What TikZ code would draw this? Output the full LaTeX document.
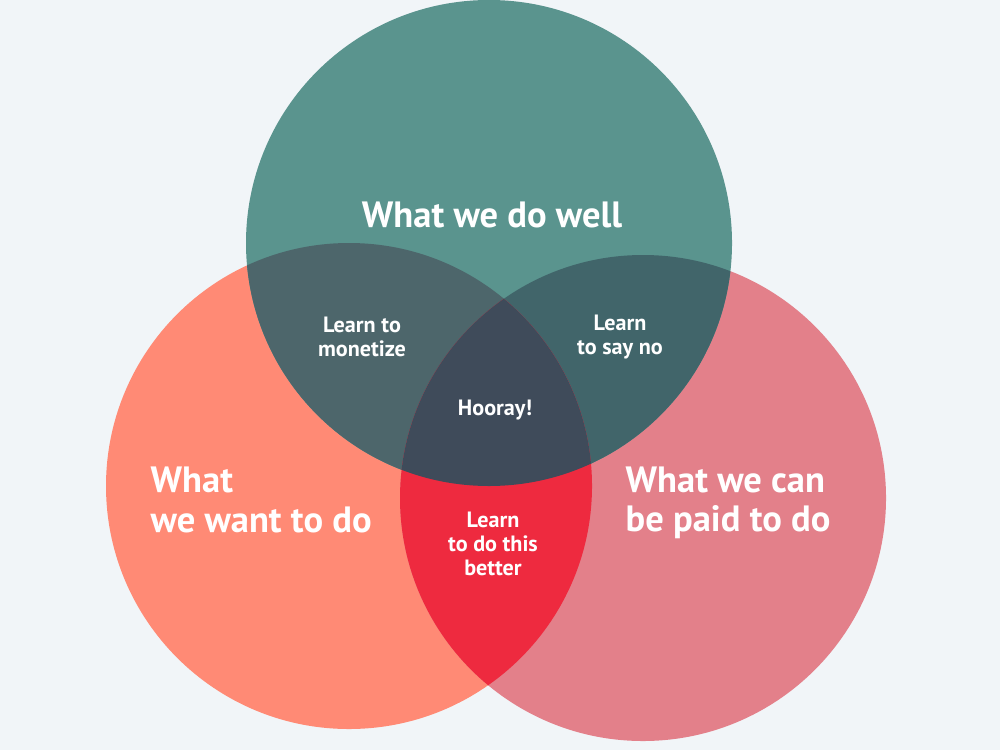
\documentclass[tikz,border=0pt]{standalone}
\usepackage{fontspec}
\setmainfont{PT Sans}
\usepackage{tikz}
\pgfdeclarelayer{circlelayer}
\pgfdeclarelayer{lenslayer}
\pgfsetlayers{circlelayer,lenslayer,main}
\definecolor{cback}{HTML}{F1F5F8}
\definecolor{cwell}{HTML}{5A948E}
\definecolor{cwant}{HTML}{FF8A75}
\definecolor{cpaid}{HTML}{E3808A}
\definecolor{cmonetize}{HTML}{4D666B}
\definecolor{csayno}{HTML}{41656A}
\definecolor{cbetter}{HTML}{EE2A3F}
\definecolor{chooray}{HTML}{3F4B5A}
\tikzstyle{set}=[circle,draw=none,minimum size=4.86cm,inner sep=0pt]
\tikzstyle{big}=[font=\bfseries\fontsize{10.4}{11.2}\selectfont,text=white,align=left,inner sep=0pt]
\tikzstyle{small}=[font=\bfseries\fontsize{6.3}{6.8}\selectfont,text=white,align=center,inner sep=0pt]

\begin{document}
\begin{tikzpicture}
	\begin{pgfonlayer}{circlelayer}
		\fill [cback] (0, 0) rectangle (10, 7.5);
		\node [style=set, fill=cwant] (L) at (3.49, 2.64) {};
		\node [style=set, fill=cpaid] (R) at (6.43, 2.52) {};
		\node [style=set, fill=cwell] (T) at (4.89, 5.07) {};
	\end{pgfonlayer}
	\begin{pgfonlayer}{lenslayer}
		% two-set overlaps
		\begin{scope}
			\clip (L.center) circle (2.43);
			\fill [cmonetize] (T.center) circle (2.43);
		\end{scope}
		\begin{scope}
			\clip (R.center) circle (2.43);
			\fill [csayno] (T.center) circle (2.43);
		\end{scope}
		\begin{scope}
			\clip (L.center) circle (2.43);
			\fill [cbetter] (R.center) circle (2.43);
		\end{scope}
		% all three
		\begin{scope}
			\clip (L.center) circle (2.43);
			\clip (R.center) circle (2.43);
			\fill [chooray] (T.center) circle (2.43);
		\end{scope}
	\end{pgfonlayer}
	\node [style=big] (well) at (4.92, 5.35) {What we do well};
	\node [style=big, anchor=west] (want) at (1.50, 2.50) {What\\we want to do};
	\node [style=big, anchor=west] (paid) at (6.25, 2.47) {What we can\\be paid to do};
	\node [style=small] (monetize) at (3.62, 4.13) {Learn to\\monetize};
	\node [style=small] (sayno) at (6.20, 4.13) {Learn\\to say no};
	\node [style=small] (hooray) at (4.95, 3.40) {Hooray!};
	\node [style=small] (better) at (4.93, 2.06) {Learn\\to do this\\better};
\end{tikzpicture}
\end{document}
